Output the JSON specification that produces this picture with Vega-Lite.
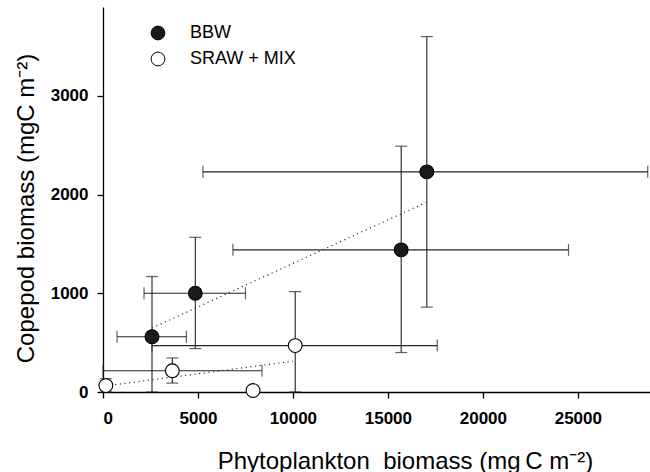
{
  "$schema": "https://vega.github.io/schema/vega-lite/v6.json",
  "width": 547,
  "height": 385,
  "autosize": {"type": "none"},
  "padding": {"left": 103, "top": 7, "right": 0, "bottom": 80},
  "background": "white",
  "config": {
    "view": {"stroke": null},
    "font": "Liberation Sans",
    "axis": {
      "grid": false,
      "domainColor": "black",
      "domainWidth": 1.3,
      "tickColor": "black",
      "tickWidth": 1.3,
      "tickSize": 6,
      "labelFont": "Liberation Sans",
      "labelFontWeight": "bold",
      "labelFontSize": 17,
      "labelColor": "black",
      "titleFont": "Liberation Sans",
      "titleFontWeight": "normal",
      "titleFontSize": 24,
      "titleColor": "black"
    },
    "legend": {
      "padding": 0,
      "symbolStrokeColor": "black",
      "symbolStrokeWidth": 1,
      "symbolSize": 190,
      "symbolType": "circle",
      "labelFont": "Liberation Sans",
      "labelFontSize": 18,
      "labelColor": "black",
      "labelOffset": 23,
      "rowPadding": 8
    }
  },
  "datasets": {
    "pts": [
      {"group": "BBW", "x": 2580, "y": 560, "xlo": 740, "xhi": 4390, "ylo": 0, "yhi": 1170},
      {"group": "BBW", "x": 4860, "y": 1000, "xlo": 2160, "xhi": 7500, "ylo": 440, "yhi": 1567},
      {"group": "BBW", "x": 15700, "y": 1440, "xlo": 6840, "xhi": 24510, "ylo": 400, "yhi": 2490},
      {"group": "BBW", "x": 17050, "y": 2230, "xlo": 5260, "xhi": 28680, "ylo": 860, "yhi": 3600},
      {"group": "SRAW + MIX", "x": 150, "y": 65, "xlo": null, "xhi": null, "ylo": 0, "yhi": 135},
      {"group": "SRAW + MIX", "x": 3650, "y": 215, "xlo": 0, "xhi": 8370, "ylo": 90, "yhi": 345},
      {"group": "SRAW + MIX", "x": 7900, "y": 15, "xlo": null, "xhi": null, "ylo": null, "yhi": null},
      {"group": "SRAW + MIX", "x": 10120, "y": 470, "xlo": 2580, "xhi": 17600, "ylo": 0, "yhi": 1017}
    ],
    "trend": [
      {"group": "BBW", "x": 2580, "y": 648},
      {"group": "BBW", "x": 17000, "y": 1920},
      {"group": "SRAW + MIX", "x": 150, "y": 62},
      {"group": "SRAW + MIX", "x": 10000, "y": 312}
    ]
  },
  "layer": [
    {
      "data": {"name": "pts"},
      "mark": {"type": "rule", "color": "#222", "strokeWidth": 1.1},
      "encoding": {
        "x": {"field": "x", "type": "quantitative", "scale": {"domain": [0, 28800], "nice": false, "zero": false},
          "axis": {"values": [0, 5000, 10000, 15000, 20000, 25000], "format": "d", "labelPadding": 12,
            "title": "Phytoplankton\u00a0 biomass (mg\u2009C m⁻²)", "titleX": 302, "titleY": 76, "titleAlign": "center", "titleBaseline": "alphabetic"}},
        "y": {"field": "ylo", "type": "quantitative", "scale": {"domain": [0, 3900], "nice": false},
          "axis": {"values": [0, 1000, 2000, 3000], "format": "d", "labelPadding": 9,
            "title": "Copepod biomass (mgC m⁻²)", "titleX": -70, "titleY": 201, "titleAngle": -90, "titleAlign": "center", "titleBaseline": "alphabetic"}},
        "y2": {"field": "yhi"}
      }
    },
    {
      "data": {"name": "pts"},
      "mark": {"type": "rule", "color": "#222", "strokeWidth": 1.1},
      "encoding": {
        "x": {"field": "xlo", "type": "quantitative"},
        "x2": {"field": "xhi"},
        "y": {"field": "y", "type": "quantitative"}
      }
    },
    {
      "data": {"name": "pts"},
      "mark": {"type": "tick", "orient": "horizontal", "color": "#222", "size": 12, "thickness": 1.2},
      "encoding": {"x": {"field": "x", "type": "quantitative"}, "y": {"field": "yhi", "type": "quantitative"}}
    },
    {
      "data": {"name": "pts"},
      "mark": {"type": "tick", "orient": "horizontal", "color": "#222", "size": 12, "thickness": 1.2},
      "encoding": {"x": {"field": "x", "type": "quantitative"}, "y": {"field": "ylo", "type": "quantitative"}}
    },
    {
      "data": {"name": "pts"},
      "mark": {"type": "tick", "orient": "vertical", "color": "#222", "size": 12, "thickness": 1.2},
      "encoding": {"x": {"field": "xlo", "type": "quantitative"}, "y": {"field": "y", "type": "quantitative"}}
    },
    {
      "data": {"name": "pts"},
      "mark": {"type": "tick", "orient": "vertical", "color": "#222", "size": 12, "thickness": 1.2},
      "encoding": {"x": {"field": "xhi", "type": "quantitative"}, "y": {"field": "y", "type": "quantitative"}}
    },
    {
      "data": {"name": "trend"},
      "mark": {"type": "line", "color": "#333", "strokeWidth": 1.2, "strokeDash": [1.2, 3.5]},
      "encoding": {
        "x": {"field": "x", "type": "quantitative"},
        "y": {"field": "y", "type": "quantitative"},
        "detail": {"field": "group"}
      }
    },
    {
      "data": {"name": "pts"},
      "mark": {"type": "circle", "stroke": "black", "strokeWidth": 1.1, "size": 190, "opacity": 1},
      "encoding": {
        "x": {"field": "x", "type": "quantitative"},
        "y": {"field": "y", "type": "quantitative"},
        "fill": {"field": "group", "type": "nominal",
          "scale": {"domain": ["BBW", "SRAW + MIX"], "range": ["#1a1a1a", "white"]},
          "legend": {"title": null, "orient": "none", "legendX": 46, "legendY": 17}}
      }
    }
  ]
}
